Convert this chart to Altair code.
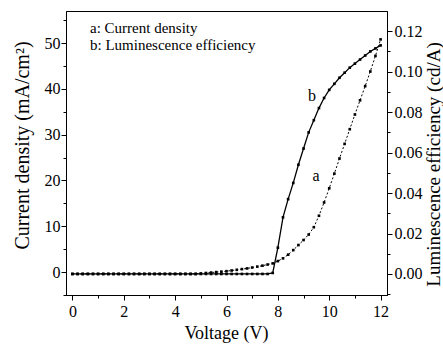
import altair as alt
import pandas as pd

voltage = [0.0, 0.2, 0.4, 0.6, 0.8, 1.0, 1.2, 1.4, 1.6, 1.8,
           2.0, 2.2, 2.4, 2.6, 2.8, 3.0, 3.2, 3.4, 3.6, 3.8,
           4.0, 4.2, 4.4, 4.6, 4.8, 5.0, 5.2, 5.4, 5.6, 5.8,
           6.0, 6.2, 6.4, 6.6, 6.8, 7.0, 7.2, 7.4, 7.6, 7.8,
           8.0, 8.2, 8.4, 8.6, 8.8, 9.0, 9.2, 9.4, 9.6, 9.8,
           10.0, 10.2, 10.4, 10.6, 10.8, 11.0, 11.2, 11.4, 11.6, 11.8,
           12.0]

current_density = [-0.4, -0.4, -0.4, -0.4, -0.4, -0.4, -0.4, -0.4, -0.4, -0.4,
                   -0.4, -0.4, -0.4, -0.4, -0.4, -0.4, -0.4, -0.4, -0.4, -0.4,
                   -0.4, -0.4, -0.4, -0.4, -0.4, -0.3, -0.2, -0.1, 0.0, 0.1,
                   0.2, 0.35, 0.5, 0.65, 0.8, 1.0, 1.2, 1.4, 1.65, 1.9,
                   2.4, 3.0, 3.8, 4.8, 5.9, 7.0, 8.2, 9.8, 12.3, 15.2,
                   18.3, 21.5, 24.8, 28.0, 31.2, 34.4, 37.5, 40.6, 43.8, 47.2,
                   50.8]

efficiency = [0.0, 0.0, 0.0, 0.0, 0.0, 0.0, 0.0, 0.0, 0.0, 0.0,
              0.0, 0.0, 0.0, 0.0, 0.0, 0.0, 0.0, 0.0, 0.0, 0.0,
              0.0, 0.0, 0.0, 0.0, 0.0, 0.0, 0.0, 0.0, 0.0, 0.0,
              0.0, 0.0, 0.0, 0.0, 0.0, 0.0, 0.0, 0.0, 0.0, 0.0005,
              0.013, 0.028, 0.037, 0.045, 0.054, 0.062, 0.070, 0.076, 0.082, 0.087,
              0.091, 0.094, 0.097, 0.0995, 0.102, 0.104, 0.106, 0.108, 0.110, 0.1115,
              0.113]

x_ticks = [0, 1, 2, 3, 4, 5, 6, 7, 8, 9, 10, 11, 12]
left_ticks = [-5, 0, 5, 10, 15, 20, 25, 30, 35, 40, 45, 50, 55]
right_ticks = [-0.01, 0.0, 0.01, 0.02, 0.03, 0.04, 0.05, 0.06, 0.07, 0.08, 0.09, 0.10, 0.11, 0.12]

legend_lines = ["a: Current density", "b: Luminescence efficiency"]

df = pd.DataFrame({"V": voltage, "J": current_density, "L": efficiency})

FONT = "Liberation Serif"

xscale = alt.Scale(domain=[-0.25, 12.25], nice=False, zero=False)
xaxis = alt.Axis(
    values=x_ticks,
    labelExpr="datum.value % 2 == 0 ? datum.label : ''",
    tickSize={"condition": {"test": "datum.value % 2 == 0", "value": 5}, "value": 3},
    title="Voltage (V)",
    titleX=160, titleY=38, titleBaseline="middle", titleAlign="center",
    titleFont=FONT, labelFont=FONT,
    titleFontSize=18, labelFontSize=16, labelPadding=3,
)
x_enc = alt.X("V:Q", scale=xscale, axis=xaxis)

yl_scale = alt.Scale(domain=[-5, 57], nice=False, zero=False)
yl_axis = alt.Axis(
    values=left_ticks,
    labelExpr="datum.value % 10 == 0 ? datum.label : ''",
    tickSize={"condition": {"test": "datum.value % 10 == 0", "value": 5}, "value": 3},
    title="Current density (mA/cm²)",
    titleAngle=270, titleX=-44, titleY=134, titleBaseline="middle", titleAlign="center",
    titleFont=FONT, labelFont=FONT,
    titleFontSize=20, labelFontSize=16, labelPadding=1,
)
yr_scale = alt.Scale(domain=[-0.0104, 0.13], nice=False, zero=False)
yr_axis = alt.Axis(
    orient="right",
    values=right_ticks,
    format=".2f",
    labelExpr="round(datum.value * 100) % 2 == 0 ? datum.label : ''",
    tickSize={"condition": {"test": "round(datum.value * 100) % 2 == 0", "value": 5}, "value": 3},
    title="Luminescence efficiency (cd/A)",
    titleAngle=270, titleX=46, titleY=153, titleBaseline="middle", titleAlign="center",
    titleFont=FONT, labelFont=FONT,
    titleFontSize=19, labelFontSize=16, labelPadding=2,
)

base = alt.Chart(df)

line_a = base.mark_line(color="black", strokeWidth=1, strokeDash=[2, 2]).encode(
    x=x_enc, y=alt.Y("J:Q", scale=yl_scale, axis=yl_axis))
pts_a = base.mark_point(shape="square", filled=True, size=7, color="black", opacity=1).encode(
    x=x_enc, y=alt.Y("J:Q", scale=yl_scale, axis=yl_axis))

legend_a = alt.Chart(pd.DataFrame({"t": [legend_lines[0]]})).mark_text(
    align="left", baseline="middle", font=FONT, fontSize=15, color="black"
).encode(text="t:N", x=alt.value(24), y=alt.value(17))
legend_b = alt.Chart(pd.DataFrame({"t": [legend_lines[1]]})).mark_text(
    align="left", baseline="middle", font=FONT, fontSize=15, color="black"
).encode(text="t:N", x=alt.value(24), y=alt.value(34))
label_a = alt.Chart(pd.DataFrame({"t": ["a"]})).mark_text(
    align="center", baseline="middle", font=FONT, fontSize=16, color="black"
).encode(text="t:N", x=alt.value(250), y=alt.value(165))
label_b = alt.Chart(pd.DataFrame({"t": ["b"]})).mark_text(
    align="center", baseline="middle", font=FONT, fontSize=16, color="black"
).encode(text="t:N", x=alt.value(246), y=alt.value(85))

left = alt.layer(line_a, pts_a, legend_a, legend_b, label_a, label_b)

line_b = base.mark_line(color="black", strokeWidth=1.3).encode(
    x=x_enc, y=alt.Y("L:Q", scale=yr_scale, axis=yr_axis))
pts_b = base.mark_point(shape="square", filled=True, size=7, color="black", opacity=1).encode(
    x=x_enc, y=alt.Y("L:Q", scale=yr_scale, axis=yr_axis))
right = alt.layer(line_b, pts_b)

chart = alt.layer(left, right).resolve_scale(y="independent").properties(
    width=321, height=284,
    padding={"left": 66, "top": 11, "right": 56, "bottom": 59},
    autosize=alt.AutoSizeParams(type="none"),
    background="white",
).configure_view(stroke="black", strokeWidth=1).configure_axis(
    grid=False, domainColor="black", domainWidth=1, tickColor="black", tickWidth=1,
    labelColor="black", titleColor="black", labelFont=FONT, titleFont=FONT,
    titleFontWeight="normal",
).configure_text(font=FONT)

chart.save("out.html", embed_options={"renderer": "svg", "actions": False})
